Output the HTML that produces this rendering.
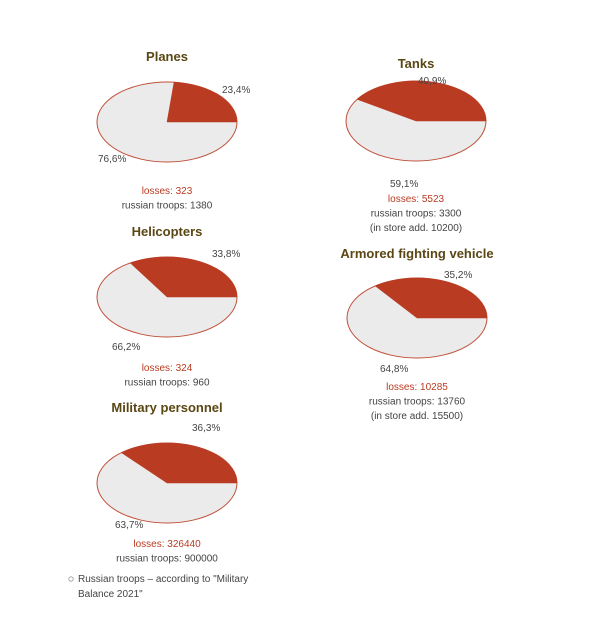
<!DOCTYPE html>
<html><head><meta charset="utf-8"><style>
body{margin:0;background:#fff;width:605px;height:641px;overflow:hidden;font-family:"Liberation Sans",sans-serif}
svg{display:block}
</style></head><body>
<svg width="605" height="641">
<g id="charts"></g>
<circle cx="71" cy="579" r="2.2" fill="none" stroke="#999" stroke-width="0.8"/>
<text x="78" y="582" font-size="10" fill="#444">Russian troops – according to "Military</text>
<text x="78" y="597" font-size="10" fill="#444">Balance 2021"</text>
</svg>
<script>
const titles=["Planes","Tanks","Helicopters","Armored fighting vehicle","Military personnel"];
const lossPct=[23.4,40.9,33.8,35.2,36.3];
const losses=[323,5523,324,10285,326440];
const troops=[1380,3300,960,13760,900000];
const stores=[null,10200,null,15500,null];
// layout (not data)
const layout=[
 {cx:167,cy:122,ty:61,lx:222,ly:93,rx2:98,ry2:162,by:194},
 {cx:416,cy:121,ty:68,lx:418,ly:84,rx2:390,ry2:187,by:202},
 {cx:167,cy:297,ty:236,lx:212,ly:257,rx2:112,ry2:350,by:371},
 {cx:417,cy:318,ty:258,lx:444,ly:278,rx2:380,ry2:372,by:390},
 {cx:167,cy:483,ty:412,lx:192,ly:431,rx2:115,ry2:528,by:547}];
const RX=70,RY=40;
const g=document.getElementById('charts');
const NS='http://www.w3.org/2000/svg';
function mk(t,a){const e=document.createElementNS(NS,t);for(const k in a)e.setAttribute(k,a[k]);g.appendChild(e);return e;}
function fmt(v){return v.toFixed(1).replace('.',',')+'%';}
titles.forEach((t,i)=>{
 const L=layout[i];
 const tt=mk('text',{x:L.cx,y:L.ty,'text-anchor':'middle','font-size':'13','font-weight':'bold',fill:'#5a4714'});
 tt.textContent=t;
 
 
 const el=mk('ellipse',{cx:L.cx,cy:L.cy,rx:RX,ry:RY,fill:'#ebebeb',stroke:'#c0503a','stroke-width':'1'});
 
 
 const a=lossPct[i]/100*2*Math.PI;
 const x2=L.cx+RX*Math.cos(a),y2=L.cy-RY*Math.sin(a);
 const large=lossPct[i]>50?1:0;
 const p=mk('path',{d:`M${L.cx},${L.cy} L${L.cx+RX},${L.cy} A${RX},${RY} 0 ${large} 0 ${x2},${y2} Z`,fill:'#b93b22',stroke:'#b93b22','stroke-width':'0.5'});
 
 
 const l1=mk('text',{x:L.lx,y:L.ly,'font-size':'10',fill:'#444'});l1.textContent=fmt(lossPct[i]);
 
 
 const l2=mk('text',{x:L.rx2,y:L.ry2,'font-size':'10',fill:'#444'});l2.textContent=fmt(100-lossPct[i]);
 
 
 const a1=mk('text',{x:L.cx,y:L.by,'text-anchor':'middle','font-size':'10',fill:'#b93b22'});a1.textContent='losses: '+losses[i];
 
 
 const a2=mk('text',{x:L.cx,y:L.by+14.5,'text-anchor':'middle','font-size':'10',fill:'#444'});a2.textContent='russian troops: '+troops[i];
 
 
 if(stores[i]!==null){
  const a3=mk('text',{x:L.cx,y:L.by+29,'text-anchor':'middle','font-size':'10',fill:'#444'});a3.textContent='(in store add. '+stores[i]+')';
  
  
 }
});
</script>
</body></html>
